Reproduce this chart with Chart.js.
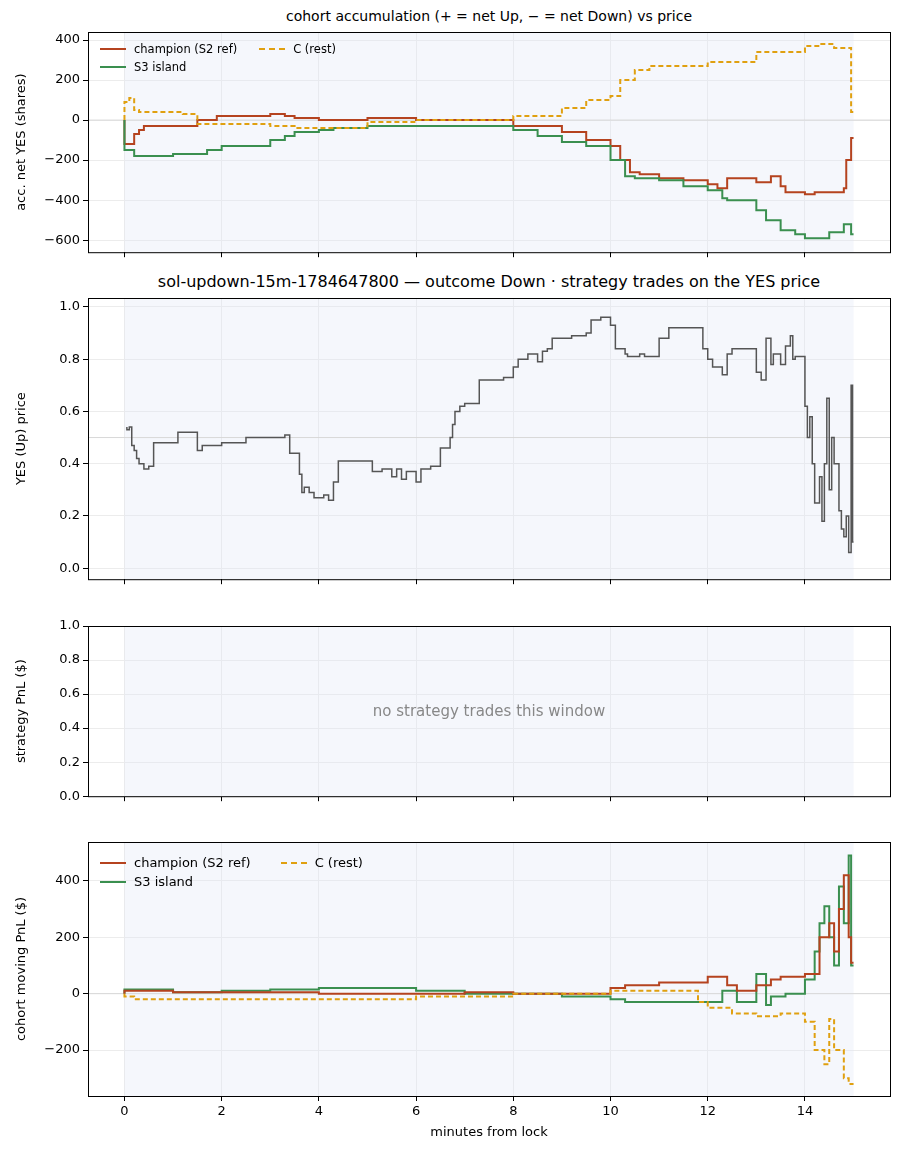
<!DOCTYPE html>
<html><head><meta charset="utf-8">
<script src="https://cdn.jsdelivr.net/npm/chart.js@4"></script>
<style>
body{margin:0;background:#fff;font-family:"DejaVu Sans",sans-serif;}
.c{position:absolute;left:0;width:901px;}
.t{position:absolute;left:88px;width:802px;text-align:center;color:#000;}
.lg{position:absolute;display:grid;grid-template-columns:auto auto;column-gap:22px;row-gap:4px;}
.li{display:flex;align-items:center;gap:8px;}
.sw{width:26px;height:0;border-top:2px solid;}
</style></head><body>
<div class="t" style="top:8px;font-size:14px">cohort accumulation (+ = net Up, − = net Down) vs price</div>
<div class="t" style="top:272px;font-size:16px">sol-updown-15m-1784647800 — outcome Down · strategy trades on the YES price</div>
<div class="c" style="top:21px;height:242px"><canvas id="c1"></canvas></div>
<div class="c" style="top:287px;height:303px"><canvas id="c2"></canvas></div>
<div class="c" style="top:615px;height:192px"><canvas id="c3"></canvas></div>
<div class="c" style="top:831px;height:313px"><canvas id="c4"></canvas></div>
<div class="t" style="top:702px;font-size:15px;color:#888">no strategy trades this window</div>
<div class="lg" style="left:100px;top:42px;font-size:11.5px">
 <div class="li"><span class="sw" style="border-color:#b5431f"></span>champion (S2 ref)</div>
 <div class="li"><span class="sw" style="border-color:#e0a010;border-top-style:dashed"></span>C (rest)</div>
 <div class="li"><span class="sw" style="border-color:#3a8f4f"></span>S3 island</div>
</div>
<div class="lg" style="left:100px;top:855px;font-size:13px;column-gap:30px">
 <div class="li"><span class="sw" style="border-color:#b5431f"></span>champion (S2 ref)</div>
 <div class="li"><span class="sw" style="border-color:#e0a010;border-top-style:dashed"></span>C (rest)</div>
 <div class="li"><span class="sw" style="border-color:#3a8f4f"></span>S3 island</div>
</div>
<script>
// ---- data ----
const accChampT=[0,0.2,0.3,0.4,0.6,1.0,1.5,1.9,2.1,3.0,3.3,3.5,4.0,5.0,6.0,7.0,8.0,9.0,9.5,10.0,10.2,10.4,10.6,11.0,11.5,12.0,12.2,12.4,12.6,13.0,13.3,13.5,13.6,14.0,14.2,14.5,14.8,14.85,14.95,15.0];
const accChampV=[0,-120,-70,-50,-30,-30,-30,0,20,20,30,20,10,0,10,0,0,-30,-60,-100,-130,-200,-260,-270,-290,-300,-320,-340,-290,-290,-310,-280,-330,-360,-370,-360,-360,-340,-200,-90];
const accS3T=[0,0.2,0.3,1.0,1.7,2.0,2.1,3.0,3.3,3.5,4.0,4.3,5.0,6.0,8.0,8.5,9.0,9.5,10.0,10.3,10.5,11.0,11.5,12.0,12.3,12.4,13.0,13.2,13.5,13.8,14.0,14.1,14.5,14.8,14.95,15.0];
const accS3V=[0,-150,-180,-180,-170,-150,-130,-130,-100,-80,-60,-50,-40,-30,-30,-50,-80,-110,-130,-200,-280,-290,-300,-330,-350,-390,-400,-450,-500,-550,-570,-590,-590,-560,-520,-570];
const accCT=[0,0.1,0.2,0.3,0.5,1.2,1.5,2.0,3.0,3.5,4.0,5.0,6.0,7.0,8.0,9.0,9.5,10.0,10.2,10.5,10.8,11.0,12.0,12.2,13.0,13.5,14.0,14.3,14.6,14.8,14.95,15.0];
const accCV=[0,90,110,50,40,40,30,-20,-20,-30,-40,-40,-10,0,0,20,60,100,120,200,250,270,270,290,290,340,340,370,380,360,360,40];
const priceT=[0.05,0.1,0.15,0.2,0.25,0.3,0.4,0.5,0.6,1.1,1.5,1.6,2.0,2.5,3.3,3.4,3.6,3.65,3.7,3.8,3.9,4.1,4.2,4.3,4.4,5.1,5.3,5.5,5.6,5.7,5.8,6.0,6.1,6.3,6.5,6.7,6.75,6.8,6.9,7.0,7.3,7.8,8.0,8.1,8.3,8.5,8.6,8.7,8.8,9.2,9.5,9.6,9.8,10.0,10.1,10.3,10.35,10.6,10.7,11.0,11.2,11.4,11.9,12.0,12.1,12.3,12.4,12.5,13.0,13.1,13.2,13.3,13.35,13.5,13.6,13.7,13.75,13.8,14.0,14.05,14.1,14.15,14.2,14.3,14.35,14.4,14.45,14.5,14.55,14.6,14.7,14.75,14.8,14.85,14.9,14.95,14.98,15.0];
const priceV=[0.54,0.53,0.54,0.47,0.45,0.42,0.40,0.38,0.39,0.48,0.52,0.45,0.47,0.48,0.50,0.51,0.44,0.36,0.29,0.31,0.29,0.27,0.28,0.26,0.33,0.41,0.37,0.38,0.35,0.38,0.34,0.37,0.33,0.38,0.39,0.46,0.50,0.55,0.60,0.62,0.63,0.72,0.73,0.77,0.80,0.82,0.79,0.83,0.84,0.88,0.89,0.90,0.95,0.96,0.93,0.84,0.82,0.81,0.82,0.81,0.88,0.92,0.92,0.84,0.80,0.77,0.74,0.82,0.84,0.75,0.72,0.88,0.78,0.82,0.78,0.85,0.89,0.80,0.81,0.62,0.50,0.58,0.40,0.25,0.35,0.18,0.40,0.65,0.30,0.50,0.40,0.22,0.15,0.12,0.20,0.06,0.70,0.10];
const pnlChampT=[0,0.3,1.0,4.0,7.0,8.0,10.0,10.3,11.0,12.0,12.4,12.6,13.0,13.3,13.5,14.0,14.3,14.5,14.6,14.7,14.8,14.9,14.95,15.0];
const pnlChampV=[0,10,10,5,0,5,0,20,30,40,60,30,10,30,50,60,70,200,250,150,300,420,200,110];
const pnlS3T=[0,0.3,1.0,2.0,3.0,4.0,6.0,7.0,9.0,10.0,10.3,12.3,12.6,13.0,13.2,13.3,13.6,14.0,14.2,14.3,14.4,14.5,14.6,14.7,14.8,14.9,14.95,15.0];
const pnlS3V=[0,15,15,5,10,15,20,10,0,-10,-20,-30,10,-30,70,-40,-10,0,50,150,250,310,200,100,380,250,490,100];
const pnlCT=[0,0.2,6.0,8.0,10.0,10.5,11.8,12.0,12.5,13.0,13.5,14.0,14.2,14.4,14.5,14.6,14.8,14.9,15.0];
const pnlCV=[0,-10,-20,-10,0,10,10,-30,-50,-70,-80,-70,-100,-200,-250,-90,-200,-300,-320];
const xTicks=[0,2,4,6,8,10,12,14];
// ---- helpers ----
Chart.defaults.font.family='"DejaVu Sans",sans-serif';
Chart.defaults.font.size=13;Chart.defaults.color='#000';
const pts=(t,v)=>t.map((x,i)=>({x,y:v[i]}));
const fmtI=v=>String(Math.round(v)).replace('-','−');
const fmt1=v=>v.toFixed(1);
const RED='#b5431f',GRN='#3a8f4f',GOLD='#e0a010';
const deco={id:'deco',beforeDatasetsDraw(c,a,o){const{ctx,chartArea:ca,scales:{x,y}}=c;ctx.save();
 ctx.fillStyle='rgba(225,232,245,0.35)';ctx.fillRect(x.getPixelForValue(0),ca.top,x.getPixelForValue(15)-x.getPixelForValue(0),ca.bottom-ca.top);
 if(o.ref!=null){ctx.strokeStyle='#d8d8d8';ctx.lineWidth=1;const py=y.getPixelForValue(o.ref);ctx.beginPath();ctx.moveTo(ca.left,py);ctx.lineTo(ca.right,py);ctx.stroke();}
 ctx.restore();},
 afterDraw(c){const{ctx,chartArea:ca}=c;ctx.save();ctx.strokeStyle='#000';ctx.lineWidth=1;ctx.strokeRect(ca.left+0.5,ca.top+0.5,ca.right-ca.left,ca.bottom-ca.top);ctx.restore();}};
function mk(id,datasets,ymin,ymax,yt,yf,ylabel,ref,last){
 new Chart(document.getElementById(id),{type:'line',data:{datasets},plugins:[deco],
 options:{responsive:true,maintainAspectRatio:false,animation:false,
 layout:{padding:{top:11,right:11,left:10,bottom:0}},
 plugins:{legend:{display:false},tooltip:{enabled:false},deco:{ref}},
 elements:{point:{radius:0},line:{tension:0}},
 scales:{
  x:{type:'linear',min:-0.75,max:15.75,afterBuildTicks:s=>{s.ticks=xTicks.map(v=>({value:v}))},
   afterFit:s=>{s.height=last?48:10},
   grid:{color:'#ececec',tickColor:'#000',tickLength:5},border:{display:false},
   ticks:{display:!!last,padding:3,callback:v=>fmtI(v)},
   title:{display:!!last,text:'minutes from lock',padding:{top:2}}},
  y:{min:ymin,max:ymax,afterBuildTicks:s=>{s.ticks=yt.map(v=>({value:v}))},
   afterFit:s=>{s.width=78},
   grid:{color:'#ececec',tickColor:'#000',tickLength:5},border:{display:false},
   ticks:{padding:3,callback:yf},
   title:{display:true,text:ylabel,padding:{bottom:2}}}}}});
}
const ds=(t,v,c,dash)=>({data:pts(t,v),borderColor:c,borderWidth:2,stepped:'after',borderDash:dash||[]});
mk('c1',[ds(accCT,accCV,GOLD,[5,3]),ds(accS3T,accS3V,GRN),ds(accChampT,accChampV,RED)],-660,440,[-600,-400,-200,0,200,400],fmtI,'acc. net YES (shares)',0);
mk('c2',[{data:pts(priceT,priceV),borderColor:'#555',borderWidth:1.5,stepped:'after'}],-0.042,1.034,[0,0.2,0.4,0.6,0.8,1.0],fmt1,'YES (Up) price',0.5);
mk('c3',[],0,1,[0,0.2,0.4,0.6,0.8,1.0],fmt1,'strategy PnL ($)',null);
mk('c4',[ds(pnlCT,pnlCV,GOLD,[5,3]),ds(pnlChampT,pnlChampV,RED),ds(pnlS3T,pnlS3V,GRN)],-363,538,[-200,0,200,400],fmtI,'cohort moving PnL ($)',0,true);
</script></body></html>
